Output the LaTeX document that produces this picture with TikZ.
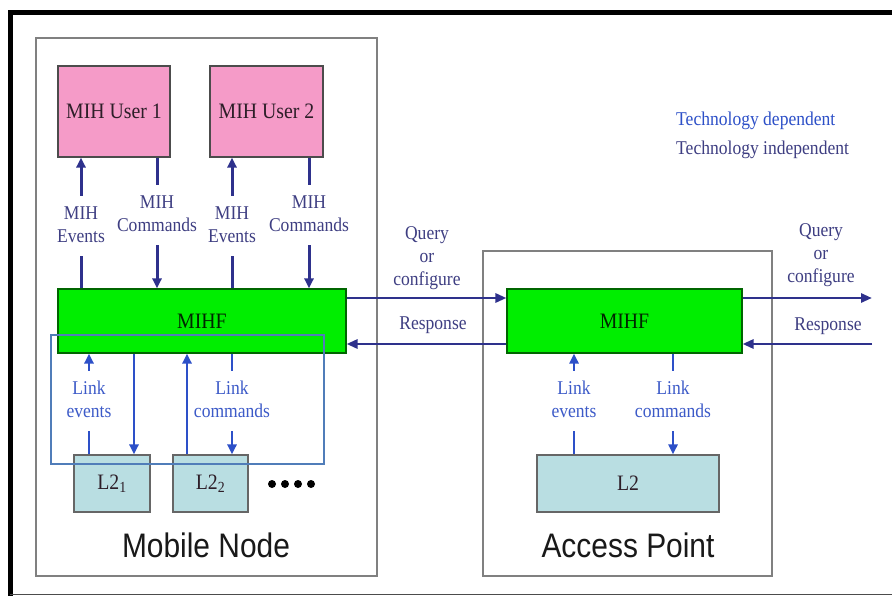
\documentclass[tikz,border=0pt]{standalone}
\usepackage{fontspec}
\setmainfont{Liberation Serif}
\newfontfamily\arialfont{Liberation Sans}
\usetikzlibrary{arrows.meta}
\definecolor{pinkbox}{RGB}{245,155,200}
\definecolor{greenbox}{RGB}{0,238,0}
\definecolor{cyanbox}{RGB}{185,222,226}
\definecolor{navy}{RGB}{46,49,140}
\definecolor{techblue}{RGB}{45,80,200}
\definecolor{labnavy}{RGB}{62,62,130}
\definecolor{labblue}{RGB}{60,90,200}
\definecolor{frameblue}{RGB}{80,125,185}
\definecolor{boxtext}{RGB}{45,30,40}
\newcommand{\lbl}[1]{\scalebox{0.9}[1]{\begin{tabular}{@{}c@{}}#1\end{tabular}}}
\tikzset{
  outerbox/.style={draw=black!50, line width=1.4pt, fill=white},
  userbox/.style={draw=black!70, line width=1.1pt, fill=pinkbox, minimum height=91pt,
     font=\fontsize{22}{24}\selectfont, text=boxtext, inner sep=0pt},
  mihfbox/.style={draw=green!40!black, line width=1.1pt, fill=greenbox, minimum height=64pt,
     font=\fontsize{22}{24}\selectfont, text=green!15!black, inner sep=0pt},
  l2box/.style={draw=black!60, line width=1.1pt, fill=cyanbox, minimum height=57pt,
     font=\fontsize{22}{24}\selectfont, text=boxtext, inner sep=0pt},
  milab/.style={font=\fontsize{19.5}{23}\selectfont, text=labnavy, inner sep=7pt},
  lilab/.style={font=\fontsize{19.5}{23}\selectfont, text=labblue, inner sep=7pt},
  miarr/.style={draw=navy, line width=3pt, -{Triangle[length=10pt,width=9pt]}},
  miline/.style={draw=navy, line width=3pt},
  liarr/.style={draw=techblue, line width=2.6pt, -{Triangle[length=10pt,width=9pt]}},
  liline/.style={draw=techblue, line width=2.6pt},
  hzarr/.style={draw=navy, line width=2.8pt, -{Triangle[length=11pt,width=9pt]}},
}
\begin{document}
\begin{tikzpicture}[x=1pt,y=-1pt]
\useasboundingbox (0,0) rectangle (892,596);
\fill[white] (0,0) rectangle (892,596);
% outer frame
\draw[black, line width=5pt] (10,596) -- (10,13) -- (892,13);
\draw[black!70, line width=1.5pt] (10,594.5) -- (892,594.5);

% containers
\draw[outerbox] (36,38) rectangle (377,576);
\draw[outerbox] (483,251) rectangle (772,576);

% boxes
\node[userbox, minimum width=112pt] (user1) at (114,111.5) {\scalebox{0.9}[1]{MIH User 1}};
\node[userbox, minimum width=113pt] (user2) at (266.5,111.5) {\scalebox{0.9}[1]{MIH User 2}};
\node[mihfbox, minimum width=288pt] (mihfL) at (202,321) {\scalebox{0.9}[1]{MIHF}};
\node[mihfbox, minimum width=235pt] (mihfR) at (624.5,321) {\scalebox{0.9}[1]{MIHF}};
\node[l2box, minimum width=76pt] (l21) at (112,483.5) {\scalebox{0.9}[1]{L2\textsubscript{1}}};
\node[l2box, minimum width=75pt] (l22) at (210.5,483.5) {\scalebox{0.9}[1]{L2\textsubscript{2}}};
\node[l2box, minimum width=182pt] (l2R) at (628,483.5) {\scalebox{0.9}[1]{L2}};

% dots
\foreach \dx in {272,285,298,311} \fill[black] (\dx,484) circle (4pt);

% MIH labels and arrows (mobile node)
\node[milab] (ev1) at (81,226) {\lbl{MIH\\Events}};
\node[milab] (cm1) at (157,215) {\lbl{MIH\\Commands}};
\node[milab] (ev2) at (232,226) {\lbl{MIH\\Events}};
\node[milab] (cm2) at (309,215) {\lbl{MIH\\Commands}};
\draw[miline] (ev1 |- mihfL.north) -- (ev1.south);
\draw[miarr] (ev1.north) -- (ev1 |- user1.south);
\draw[miline] (cm1 |- user1.south) -- (cm1.north);
\draw[miarr] (cm1.south) -- (cm1 |- mihfL.north);
\draw[miline] (ev2 |- mihfL.north) -- (ev2.south);
\draw[miarr] (ev2.north) -- (ev2 |- user2.south);
\draw[miline] (cm2 |- user2.south) -- (cm2.north);
\draw[miarr] (cm2.south) -- (cm2 |- mihfL.north);

% Link labels and arrows (mobile node)
\node[lilab] (le1) at (89,401) {\lbl{Link\\events}};
\node[lilab] (lc1) at (232,401) {\lbl{Link\\commands}};
\draw[liline] (le1 |- l21.north) -- (le1.south);
\draw[liarr] (le1.north) -- (le1 |- mihfL.south);
\draw[liline] (lc1 |- mihfL.south) -- (lc1.north);
\draw[liarr] (lc1.south) -- (lc1 |- l22.north);
\coordinate (d1) at (134,0);
\coordinate (u2) at (187,0);
\draw[liarr] (d1 |- mihfL.south) -- (d1 |- l21.north);
\draw[liarr] (u2 |- l22.north) -- (u2 |- mihfL.south);

% Link labels and arrows (access point)
\node[lilab] (le2) at (574,401) {\lbl{Link\\events}};
\node[lilab] (lc2) at (673,401) {\lbl{Link\\commands}};
\draw[liline] (le2 |- l2R.north) -- (le2.south);
\draw[liarr] (le2.north) -- (le2 |- mihfR.south);
\draw[liline] (lc2 |- mihfR.south) -- (lc2.north);
\draw[liarr] (lc2.south) -- (lc2 |- l2R.north);

% technology frame
\draw[frameblue, line width=1.2pt] (51,335) rectangle (324,464);

% horizontal arrows
\coordinate (qy) at (0,298);
\coordinate (rs) at (0,344);
\coordinate (qend) at (872,298);
\coordinate (rend) at (872,344);
\draw[hzarr] (mihfL.east |- qy) -- (mihfR.west |- qy);
\draw[hzarr] (mihfR.west |- rs) -- (mihfL.east |- rs);
\draw[hzarr] (mihfR.east |- qy) -- (qend);
\draw[hzarr] (rend) -- (mihfR.east |- rs);
\node[milab, inner sep=0pt] (q1) at (427,258) {\lbl{Query\\or\\configure}};
\node[milab, inner sep=0pt] (r1) at (433,325) {\lbl{Response}};
\node[milab, inner sep=0pt] (q2) at (821,255) {\lbl{Query\\or\\configure}};
\node[milab, inner sep=0pt] (r2) at (828,326) {\lbl{Response}};

% legend
\node[font=\fontsize{19.5}{23}\selectfont, text=techblue, anchor=west, inner sep=0pt] (tdep) at (676,121) {\scalebox{0.9}[1]{Technology dependent}};
\node[font=\fontsize{19.5}{23}\selectfont, text=labnavy, anchor=west, inner sep=0pt] (tind) at (676,150) {\scalebox{0.9}[1]{Technology independent}};

% container titles
\node[font=\arialfont\fontsize{34}{38}\selectfont, text=black!90, inner sep=0pt] (mn) at (206,545) {\scalebox{0.88}[1]{Mobile Node}};
\node[font=\arialfont\fontsize{34}{38}\selectfont, text=black!90, inner sep=0pt] (ap) at (628,545) {\scalebox{0.88}[1]{Access Point}};
\end{tikzpicture}
\end{document}
